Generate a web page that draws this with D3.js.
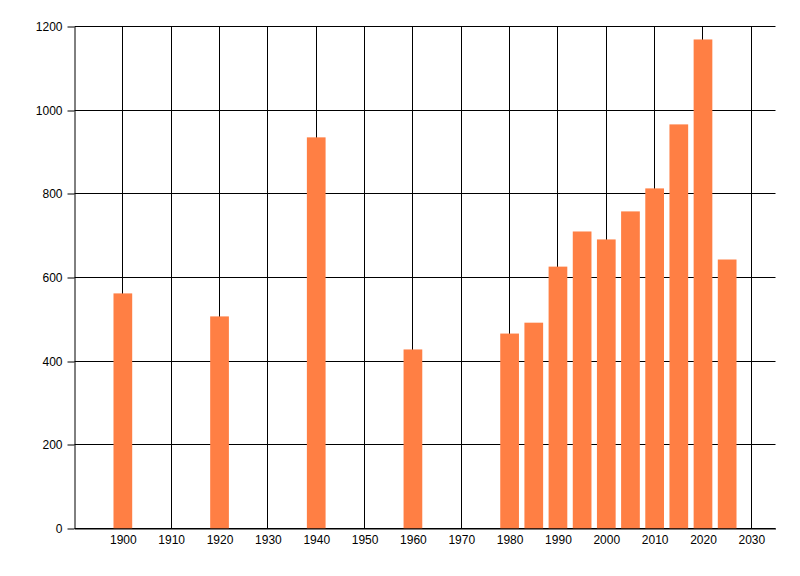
<!DOCTYPE html>
<html><head><meta charset="utf-8">
<script src="https://cdn.jsdelivr.net/npm/d3@7"></script>
<style>body{margin:0;background:#fff}svg{display:block}</style>
</head><body><svg id="c" width="800" height="576"></svg>
<script>
const years = [1900,1920,1940,1960,1980,1985,1990,1995,2000,2005,2010,2015,2020,2025];
const values = [562,507,935,428,466,492,626,710,691,758,813,966,1169,643];
const xTicks = d3.range(1900,2031,10);
const yTicks = [0,200,400,600,800,1000,1200];

const FONT = "'Liberation Sans',Arial,sans-serif";
const svg = d3.select("#c");
const x = d3.scaleLinear().domain([1890,2035]).range([74.5,775.5]);
const y = d3.scaleLinear().domain([0,1200]).range([528.5,26.5]);
const barW = x(1893.87)-x(1890);
const px = v => Math.round(v-0.5)+0.5;

// grid
svg.append("g").selectAll("line").data(yTicks).join("line")
  .attr("x1",x(1890)).attr("x2",x(2035)).attr("y1",d=>px(y(d))).attr("y2",d=>px(y(d)))
  .attr("stroke","#000").attr("stroke-width",1);
svg.append("g").selectAll("line").data(xTicks).join("line")
  .attr("x1",d=>px(x(d))).attr("x2",d=>px(x(d))).attr("y1",y(1200)).attr("y2",y(0))
  .attr("stroke","#000").attr("stroke-width",1);

// bars
svg.append("g").selectAll("rect").data(years).join("rect")
  .attr("x",(d)=>x(d)-barW/2).attr("width",barW)
  .attr("y",(d,i)=>y(values[i])).attr("height",(d,i)=>y(0)-y(values[i]))
  .attr("fill","#FF7F44");

// y axis
const ya = svg.append("g").attr("transform",`translate(${x(1890)},0)`)
  .call(d3.axisLeft(y).tickValues(yTicks).tickFormat(d3.format("d")).tickSize(7).tickPadding(5).tickSizeOuter(0));
ya.select(".domain").attr("stroke","#000").attr("stroke-width",1);
ya.selectAll(".tick line").attr("stroke","#000").attr("stroke-width",1)
  .attr("transform",d=>`translate(0,${px(y(d))-y(d)})`);
ya.selectAll("text").attr("font-family",FONT).attr("font-size",12).attr("fill","#000");

// x axis
const xa = svg.append("g").attr("transform",`translate(0,${y(0)})`)
  .call(d3.axisBottom(x).tickValues(xTicks).tickFormat(d3.format("d")).tickSize(0).tickPadding(7).tickSizeOuter(0));
xa.select(".domain").attr("stroke","#000").attr("stroke-width",1);
xa.selectAll("text").attr("font-family",FONT).attr("font-size",12).attr("fill","#000");
</script></body></html>
